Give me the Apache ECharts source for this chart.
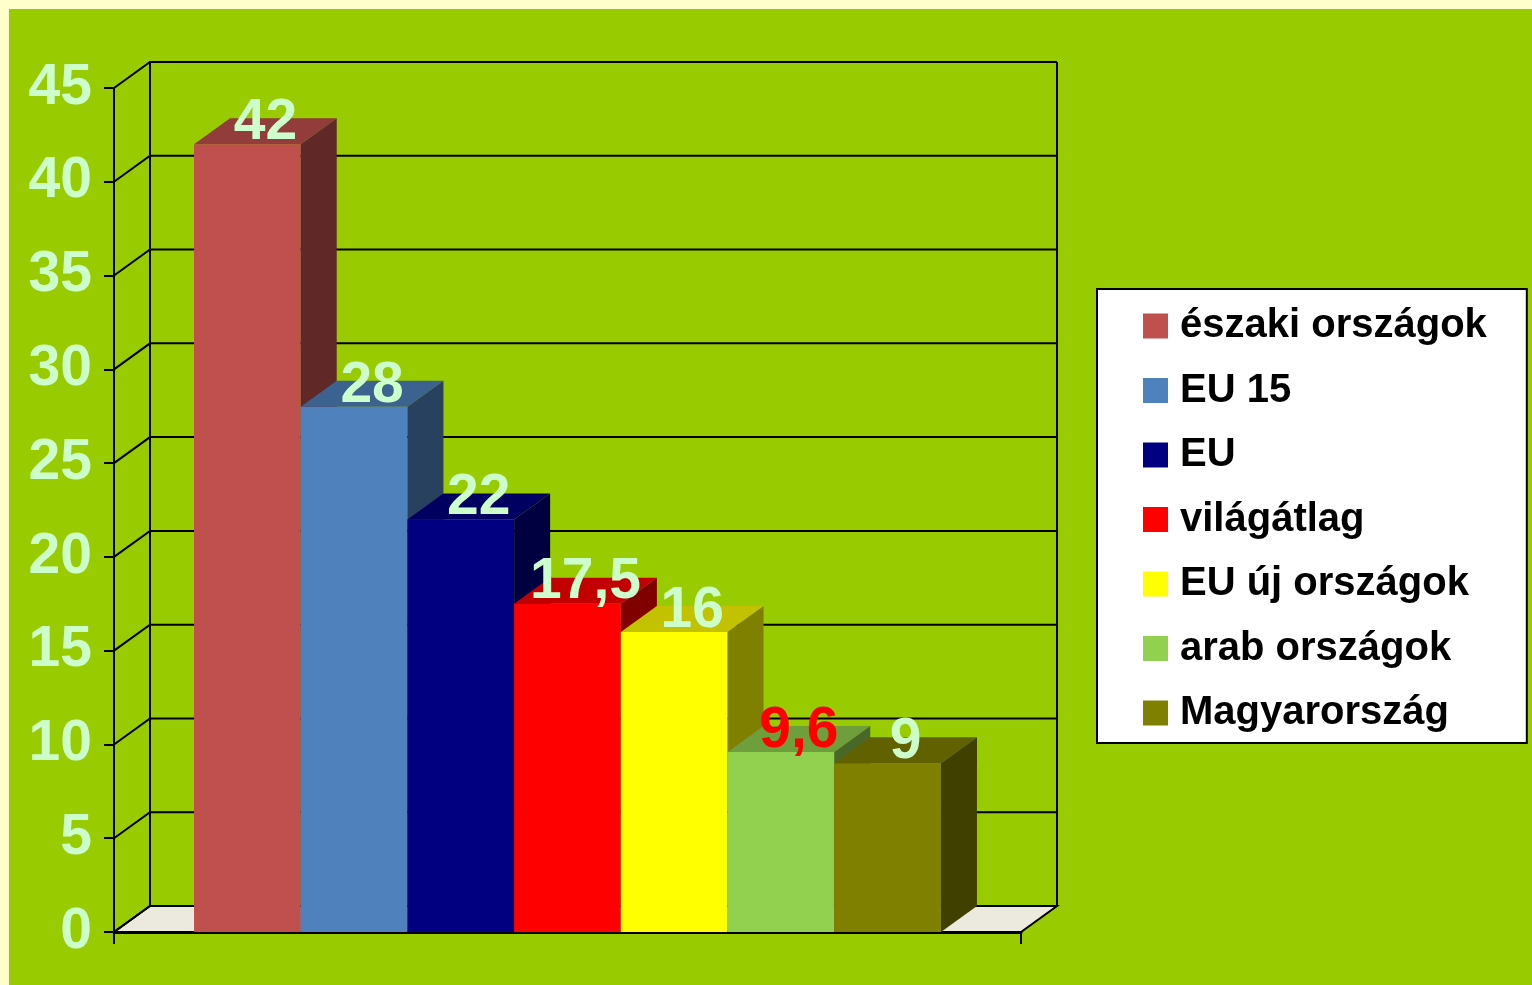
<!DOCTYPE html>
<html>
<head>
<meta charset="utf-8">
<title>Országok</title>
<script src="https://cdn.jsdelivr.net/npm/echarts@6/dist/echarts.min.js"></script>
<style>
  html, body { margin: 0; padding: 0; background: #ffffcc; }
  #green { position: absolute; left: 9px; top: 9px; width: 1523px; height: 976px; background: #99cc00; }
  #chart { position: absolute; left: 0; top: 0; width: 1532px; height: 985px; }
</style>
</head>
<body>
<div id="green"></div>
<div id="chart"></div>
<script>
// data
const categories = ['északi országok', 'EU 15', 'EU', 'világátlag', 'EU új országok', 'arab országok', 'Magyarország'];
const values = [42, 28, 22, 17.5, 16, 9.6, 9];
const valueLabels = ['42', '28', '22', '17,5', '16', '9,6', '9'];
const yTicks = [0, 5, 10, 15, 20, 25, 30, 35, 40, 45];

const frontColors = ['#c0504d', '#4f81bd', '#000080', '#ff0000', '#ffff00', '#92d050', '#808000'];
const labelColors = ['#ccffcc', '#ccffcc', '#ccffcc', '#ccffcc', '#ccffcc', '#ff0000', '#ccffcc'];

// depth of the fake 3d
const DX = 36, DY = -26;
const X_MIN = -0.75, X_MAX = 7.75;
const FONT = 'Arial, "Liberation Sans", sans-serif';

function shade(hex, f) {
  const n = parseInt(hex.slice(1), 16);
  const r = Math.round(((n >> 16) & 255) * f);
  const g = Math.round(((n >> 8) & 255) * f);
  const b = Math.round((n & 255) * f);
  return 'rgb(' + r + ',' + g + ',' + b + ')';
}

const chart = echarts.init(document.getElementById('chart'));

// floor + back wall edges
const floorSeries = {
  type: 'custom',
  xAxisIndex: 1,
  z: 1,
  silent: true,
  data: [[0]],
  renderItem: function (params, api) {
    const a = api.coord([X_MIN, yTicks[0]]);
    const b = api.coord([X_MAX, yTicks[0]]);
    const topL = api.coord([X_MIN, yTicks[yTicks.length - 1]]);
    const topR = api.coord([X_MAX, yTicks[yTicks.length - 1]]);
    const line = { stroke: '#000', lineWidth: 2 };
    return {
      type: 'group',
      children: [
        { type: 'polygon', shape: { points: [a, b, [b[0] + DX, b[1] + DY], [a[0] + DX, a[1] + DY]] },
          style: { fill: '#ece9df', stroke: '#000', lineWidth: 2 } },
        { type: 'line', shape: { x1: topL[0] + DX, y1: topL[1] + DY, x2: a[0] + DX, y2: a[1] + DY }, style: line },
        { type: 'line', shape: { x1: topR[0] + DX, y1: topR[1] + DY, x2: b[0] + DX, y2: b[1] + DY }, style: line }
      ]
    };
  }
};

// gridlines on the left and back wall
const wallSeries = {
  type: 'custom',
  xAxisIndex: 1,
  z: 2,
  silent: true,
  data: yTicks.map(function (t) { return [t]; }),
  renderItem: function (params, api) {
    const v = api.value(0);
    const l = api.coord([X_MIN, v]);
    const r = api.coord([X_MAX, v]);
    return {
      type: 'polyline',
      shape: { points: [l, [l[0] + DX, l[1] + DY], [r[0] + DX, r[1] + DY]] },
      style: { stroke: '#000', lineWidth: 2, fill: null }
    };
  }
};

const barSeries = categories.map(function (name, i) {
  const col = frontColors[i];
  return {
    name: name,
    type: 'custom',
    xAxisIndex: 1,
    z: 3,
    itemStyle: { color: col },
    data: [[i, values[i]]],
    renderItem: function (params, api) {
      const x0 = api.value(0);
      const v = api.value(1);
      const p0 = api.coord([x0, 0]);
      const p1 = api.coord([x0 + 1, v]);
      const L = p0[0], B = p0[1], R = p1[0], T = p1[1];
      return {
        type: 'group',
        children: [
          { type: 'rect', shape: { x: L, y: T, width: R - L, height: B - T }, style: { fill: col } },
          { type: 'polygon', shape: { points: [[L, T], [R, T], [R + DX, T + DY], [L + DX, T + DY]] },
            style: { fill: shade(col, 0.76) } },
          { type: 'polygon', shape: { points: [[R, T], [R, B], [R + DX, B + DY], [R + DX, T + DY]] },
            style: { fill: shade(col, 0.5) } },
          { type: 'text', z2: 10,
            style: { text: valueLabels[i], x: (L + R) / 2 + DX / 2, y: T + DY + 5,
              fill: labelColors[i], font: 'bold 57px ' + FONT, align: 'center', verticalAlign: 'middle' } }
        ]
      };
    }
  };
});

const option = {
  backgroundColor: 'transparent',
  animation: false,
  grid: { left: 114, right: 511, top: 88, bottom: 53, containLabel: false },
  legend: {
    orient: 'vertical',
    left: 1097,
    top: 289,
    data: categories,
    icon: 'rect',
    itemWidth: 25,
    itemHeight: 25,
    itemGap: 24.5,
    padding: [17, 40, 10, 46],
    backgroundColor: '#ffffff',
    borderColor: '#000000',
    borderWidth: 2,
    borderRadius: 0,
    selectedMode: false,
    textStyle: { color: '#000', fontSize: 40, fontWeight: 'bold', fontFamily: FONT, lineHeight: 40, padding: [0, 0, 0, 7] }
  },
  xAxis: [
    {
      type: 'category',
      data: [''],
      boundaryGap: true,
      axisLine: { show: true, lineStyle: { color: '#000', width: 3 } },
      axisTick: { show: true, length: 12, lineStyle: { color: '#000', width: 2 } },
      axisLabel: { show: false },
      splitLine: { show: false }
    },
    { type: 'value', min: X_MIN, max: X_MAX, show: false }
  ],
  yAxis: {
    type: 'value',
    min: 0,
    max: 45,
    interval: 5,
    axisLine: { show: true, onZero: false, lineStyle: { color: '#000', width: 2 } },
    axisTick: { show: true, length: 10, lineStyle: { color: '#000', width: 2 } },
    axisLabel: { color: '#ccffcc', fontSize: 57, fontWeight: 'bold', fontFamily: FONT, margin: 22, padding: [8, 0, 0, 0] },
    splitLine: { show: false }
  },
  series: [floorSeries, wallSeries].concat(barSeries)
};

chart.setOption(option);
</script>
</body>
</html>
